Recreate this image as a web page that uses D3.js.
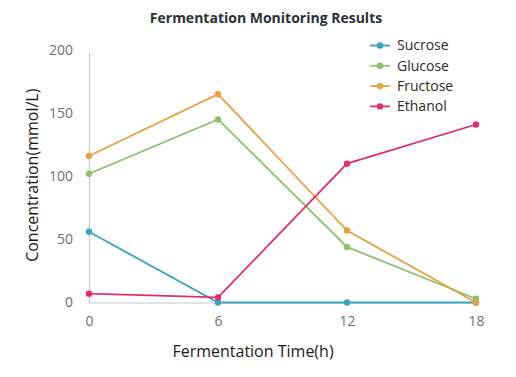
<!DOCTYPE html>
<html>
<head>
<meta charset="utf-8">
<script src="https://cdn.jsdelivr.net/npm/d3@7"></script>
<style>
  body { margin: 0; background: #fff; }
  svg { display: block; font-family: "Open Sans", "Noto Sans", sans-serif; }
</style>
</head>
<body>
<svg id="chart"></svg>
<script>
const width = 516;
const height = 377;

// data
const hours = [0, 6, 12, 18];
const sucrose = [56, 0, 0, 0];
const glucose = [102, 145, 44, 3];
const fructose = [116, 165, 57, 0];
const ethanol = [7, 4, 110, 141];
const yTicks = [0, 50, 100, 150, 200];

const seriesNames = ["Sucrose", "Glucose", "Fructose", "Ethanol"];
const seriesValues = [sucrose, glucose, fructose, ethanol];
const colors = ["#3aa5b8", "#8cc06a", "#e8a040", "#e0306b"];

const margin = {top: 50, right: 40, bottom: 74, left: 89};

const svg = d3.select("#chart")
  .attr("width", width)
  .attr("height", height)
  .attr("viewBox", [0, 0, width, height]);

const x = d3.scaleLinear()
  .domain([0, 18])
  .range([margin.left, width - margin.right]);

const y = d3.scaleLinear()
  .domain([0, 200])
  .range([height - margin.bottom - 0.5, margin.top]);

// title
svg.append("text")
  .attr("x", 266)
  .attr("y", 23)
  .attr("text-anchor", "middle")
  .attr("font-size", 14)
  .attr("font-weight", "bold")
  .attr("fill", "#2b2f3a")
  .text("Fermentation Monitoring Results");

// axes
const xAxis = svg.append("g")
  .attr("transform", `translate(0,${y(0)})`)
  .call(d3.axisBottom(x).tickValues(hours).tickSize(0).tickPadding(14));

const yAxis = svg.append("g")
  .attr("transform", `translate(${x(0)},0)`)
  .call(d3.axisLeft(y).tickValues(yTicks).tickSize(0).tickPadding(16));

[xAxis, yAxis].forEach(g => {
  g.select(".domain").attr("stroke", "#c8c8c8").attr("stroke-width", 1.2);
  g.selectAll("text")
    .attr("font-size", 14)
    .attr("fill", "#707070")
    .attr("font-family", "\"Open Sans\", sans-serif");
});
yAxis.select(".domain").attr("d", `M0.5,${y(200) + 3}V${y(0)}`);

// axis titles
svg.append("text")
  .attr("x", 253)
  .attr("y", 357)
  .attr("text-anchor", "middle")
  .attr("font-size", 16)
  .attr("fill", "#1a1a1a")
  .text("Fermentation Time(h)");

svg.append("text")
  .attr("transform", `translate(38,${(y(0) + y(200)) / 2 - 1}) rotate(-90)`)
  .attr("text-anchor", "middle")
  .attr("font-size", 16)
  .attr("fill", "#1a1a1a")
  .text("Concentration(mmol/L)");

// lines and points
const line = d3.line()
  .x((d, i) => x(hours[i]))
  .y(d => y(d));

const series = svg.append("g")
  .selectAll("g")
  .data(seriesValues)
  .join("g")
    .attr("fill", (d, i) => colors[i])
    .attr("stroke", (d, i) => colors[i]);

series.append("path")
  .attr("d", d => line(d))
  .attr("fill", "none")
  .attr("stroke-width", 1.8);

series.selectAll("circle")
  .data(d => d)
  .join("circle")
    .attr("cx", (d, i) => x(hours[i]))
    .attr("cy", d => y(d))
    .attr("r", 3.2)
    .attr("stroke", "none");

// legend
const legend = svg.append("g")
  .selectAll("g")
  .data(seriesNames)
  .join("g")
    .attr("transform", (d, i) => `translate(370,${45.5 + i * 20.3})`);

legend.append("line")
  .attr("x1", 0)
  .attr("x2", 20)
  .attr("stroke", (d, i) => colors[i])
  .attr("stroke-width", 1.8);

legend.append("circle")
  .attr("cx", 10)
  .attr("r", 3.2)
  .attr("fill", (d, i) => colors[i]);

legend.append("text")
  .attr("x", 27)
  .attr("dy", "0.35em")
  .attr("font-size", 14)
  .attr("fill", "#2a2a2a")
  .text(d => d);
</script>
</body>
</html>
